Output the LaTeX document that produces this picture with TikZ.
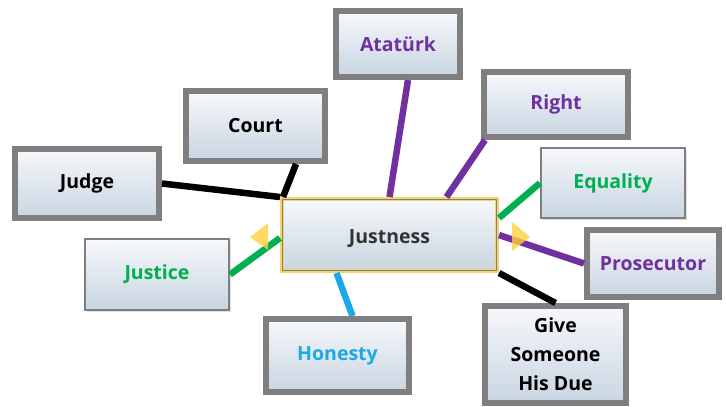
\documentclass[tikz,border=0pt]{standalone}
\usepackage{fontspec}
\setmainfont{Open Sans}
\usetikzlibrary{shadows}
\definecolor{cpurple}{HTML}{7030A0}
\definecolor{cgreen}{HTML}{00B050}
\definecolor{cblue}{HTML}{1BA9E8}
\definecolor{ctext}{HTML}{333333}
\definecolor{frame}{HTML}{7F7F7F}
\definecolor{boxtop}{HTML}{F6F8FB}
\definecolor{boxbot}{HTML}{C8D5E1}
\definecolor{glow}{HTML}{F4D56A}
\definecolor{mark}{HTML}{FFCF40}
\tikzset{
  term/.style={rectangle, top color=boxtop, bottom color=boxbot,
    font=\fontsize{19.5}{29}\selectfont\bfseries, align=center, inner sep=0pt,
    drop shadow={opacity=0.25, shadow xshift=2pt, shadow yshift=-2pt}},
  heavy/.style={term, draw=frame, line width=6pt},
  light/.style={term, draw=frame, line width=2pt},
  link/.style={line width=6.5pt, line cap=butt},
  marker/.style={fill=mark, opacity=0.8, draw=none}
}
\begin{document}
\begin{tikzpicture}[x=1pt,y=-1pt]
\useasboundingbox (0,0) rectangle (726,407);

% central term
\node[light, draw=glow, line width=4pt, minimum width=215pt, minimum height=72pt] (just) at (389.5,235) {};
\draw[frame, line width=1pt] ([shift={(2.5pt,-2.5pt)}]just.north west) rectangle ([shift={(-2.5pt,2.5pt)}]just.south east);
\node[font=\fontsize{19.5}{29}\selectfont\bfseries, text=ctext, inner sep=0pt] (justlabel) at ([yshift=-4pt]just.center) {Justness};

% surrounding terms
\node[heavy, minimum width=124pt, minimum height=66pt, text=cpurple] (atat) at (398,44) {Atatürk};
\node[heavy, minimum width=144pt, minimum height=65pt, text=cpurple] (right) at (556,104.5) {Right};
\node[heavy, minimum width=139pt, minimum height=70pt, text=black] (court) at (255.5,126) {Court};
\node[heavy, minimum width=144pt, minimum height=69pt, text=black] (judge) at (87,183.5) {Judge};
\node[light, minimum width=144pt, minimum height=70pt, text=cgreen] (equal) at (613,183) {Equality};
\node[light, minimum width=144pt, minimum height=71pt, text=cgreen] (justice) at (157,274.5) {Justice};
\node[heavy, minimum width=132pt, minimum height=67pt, text=cpurple] (pros) at (653,263.5) {Prosecutor};
\node[heavy, minimum width=143pt, minimum height=73pt, text=cblue] (hon) at (337.5,355.5) {Honesty};
\node[heavy, minimum width=141pt, minimum height=97pt, text=black] (give) at (555.5,354.5) {Give\\Someone\\His Due};

% connectors
\draw[link, cpurple] ([xshift=10pt]atat.south) -- (just.north);
\draw[link, cpurple] ([xshift=4pt]right.south west) -- ([xshift=57pt]just.north);
\draw[link, black] ([xshift=-32pt]court.south east) -- ([xshift=3pt]just.north west);
\draw[link, black] (judge.east) -- (just.north west);
\draw[link, cgreen] (equal.west) -- ([yshift=17pt]just.east);
\draw[link, cgreen] (justice.east) -- ([yshift=-3pt]just.west);
\draw[link, cpurple] (just.east) -- (pros.west);
\draw[link, cblue] ([xshift=-53pt]just.south) -- ([xshift=15pt]hon.north);
\draw[link, black] (just.south east) -- (give.north);

% markers beside the central term
\fill[marker] (250,237) -- (268,223) -- (268,250) -- cycle;
\fill[marker] (530,237) -- (512,222) -- (512,251) -- cycle;
\end{tikzpicture}
\end{document}
